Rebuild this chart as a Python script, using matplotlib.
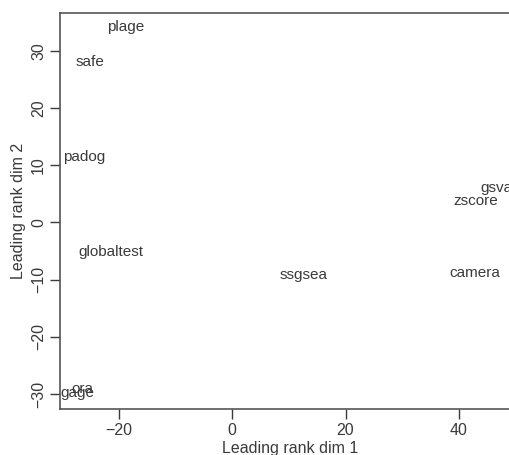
import matplotlib
matplotlib.use('Agg')
import matplotlib.pyplot as plt

plt.rcParams['font.family'] = ['Liberation Sans', 'DejaVu Sans']

methods = ['plage', 'safe', 'padog', 'globaltest', 'ssgsea', 'camera',
           'zscore', 'gsva', 'gage', 'ora']
dim1 = [-18.8, -25.1, -26.1, -21.4, 12.6, 42.8, 43.0, 46.6, -27.3, -26.4]
dim2 = [34.1, 28.1, 11.5, -5.2, -9.1, -8.9, 3.8, 6.1, -29.8, -29.1]

xticks = [-20, 0, 20, 40]
yticks = [-30, -20, -10, 0, 10, 20, 30]

ink = '#3a3a3a'

fig = plt.figure(figsize=(5.1, 4.55), dpi=100)
# right edge of the plot box runs off the picture, as in the reference
ax = fig.add_axes([0.1176, 0.1011, 0.902, 0.8714])

for name, x, y in zip(methods, dim1, dim2):
    ax.text(x, y, name, ha='center', va='center', fontsize=11, color=ink, clip_on=True)

ax.set_xlim(-30.4, 50.8)
ax.set_ylim(-32.6, 36.7)
ax.set_xticks(xticks)
ax.set_yticks(yticks)
ax.set_yticklabels([str(t).replace('-', '\u2212') for t in yticks], rotation=90, va='center')
ax.tick_params(direction='out', length=7, width=1, colors=ink, labelsize=11.5, pad=3)
for s in ax.spines.values():
    s.set_color('#555555')
    s.set_linewidth(1.2)

ax.set_xlabel('Leading rank dim 1', fontsize=11.5, color=ink, labelpad=2)
ax.set_ylabel('Leading rank dim 2', fontsize=11.5, color=ink, labelpad=4)

fig.savefig('out.png', dpi=100)
